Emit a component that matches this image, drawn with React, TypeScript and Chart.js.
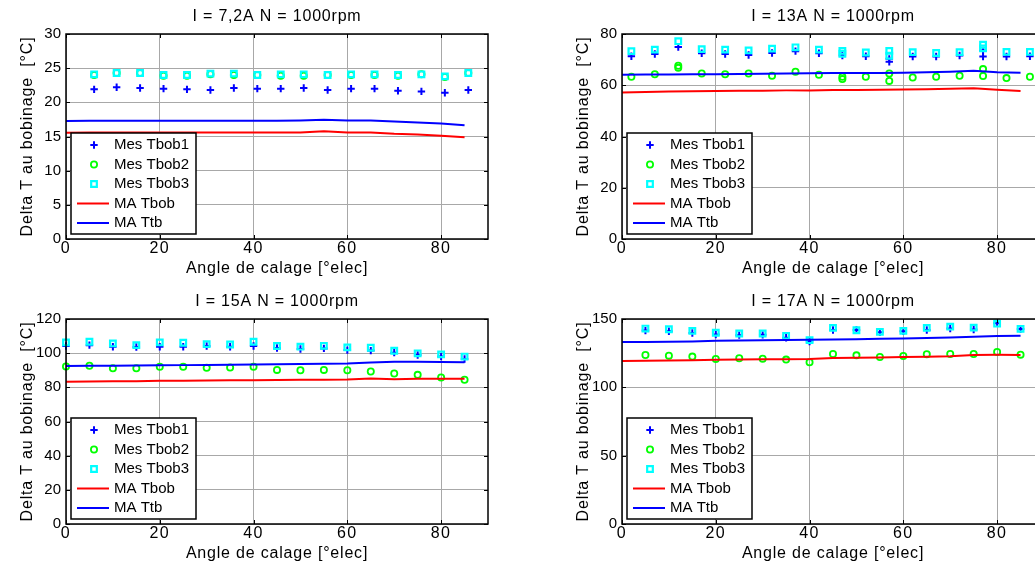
import React, { useEffect, useRef } from "react";
import { Chart, registerables } from "chart.js";

Chart.register(...registerables);

const FONT = '"Liberation Sans", Arial, Helvetica, sans-serif';

// ---------- shared ----------
const lineAngles = [0, 5, 10, 15, 20, 25, 30, 35, 40, 45, 50, 55, 60, 65, 70, 75, 80, 85];
const xTicks = [0, 20, 40, 60, 80];
const xMax = 90;
const legendLabels = ["Mes Tbob1", "Mes Tbob2", "Mes Tbob3", "MA Tbob", "MA Ttb"];
const xTitle = "Angle de calage [°elec]";
const yTitle = "Delta T au bobinage  [°C]";

// ---------- panel 1 : I = 7,2A ----------
const p1Title = "I = 7,2A N = 1000rpm";
const p1YTicks = [0, 5, 10, 15, 20, 25, 30];
const p1MesAngles = [6, 10.8, 15.8, 20.8, 25.8, 30.8, 35.8, 40.8, 45.8, 50.7, 55.8, 60.8, 65.8, 70.8, 75.8, 80.8, 85.8];
const p1Tbob1 = [21.9, 22.2, 22.1, 22.0, 21.9, 21.8, 22.1, 22.0, 22.0, 22.1, 21.8, 22.0, 22.0, 21.7, 21.6, 21.4, 21.8];
const p1Tbob2 = [24.0, 24.3, 24.3, 23.9, 23.9, 24.1, 24.0, 24.0, 23.9, 23.9, 24.0, 24.0, 24.0, 23.9, 24.1, 23.7, 24.3];
const p1Tbob3 = [24.1, 24.3, 24.3, 24.0, 24.0, 24.2, 24.2, 24.0, 24.1, 24.1, 24.0, 24.1, 24.1, 24.0, 24.1, 23.8, 24.3];
const p1MaTbob = [15.55, 15.6, 15.6, 15.6, 15.6, 15.6, 15.6, 15.6, 15.6, 15.6, 15.6, 15.75, 15.6, 15.6, 15.4, 15.3, 15.1, 14.9];
const p1MaTtb = [17.25, 17.3, 17.3, 17.3, 17.3, 17.3, 17.3, 17.3, 17.3, 17.3, 17.35, 17.45, 17.35, 17.35, 17.2, 17.05, 16.9, 16.65];

// ---------- panel 2 : I = 13A ----------
const p2Title = "I = 13A N = 1000rpm";
const p2YTicks = [0, 20, 40, 60, 80];
const p2MesAngles = [2, 7, 12, 17, 22, 27, 32, 37, 42, 47, 52, 57, 62, 67, 72, 77, 82, 87];
const p2Tbob1 = [71.3, 72.2, 74.9, 72.5, 72.2, 71.8, 72.6, 73.3, 72.5, 71.6, 71.3, 70.3, 71.2, 71.2, 71.6, 73.6, 71.2, 71.3];
const p2Tbob2 = [63.3, 64.3, 67.6, 64.6, 64.3, 64.6, 63.7, 65.3, 64.1, 63.3, 63.3, 64.6, 63.0, 63.3, 63.7, 66.3, 62.8, 63.3];
const p2Tbob3 = [73.3, 73.9, 77.2, 74.1, 73.9, 73.6, 74.3, 74.8, 73.9, 73.4, 72.8, 73.4, 72.9, 72.6, 72.9, 75.8, 73.0, 73.0];
const p2Tbob1ExtraAngles = [57, 77];
const p2Tbob1Extra = [69.2, 71.2];
const p2Tbob2ExtraAngles = [12, 47, 57, 77];
const p2Tbob2Extra = [66.8, 62.4, 61.7, 63.6];
const p2Tbob3ExtraAngles = [47, 57, 77];
const p2Tbob3Extra = [72.3, 71.5, 74.4];
const p2MaTbob = [57.2, 57.4, 57.6, 57.7, 57.8, 57.9, 57.9, 58.0, 58.0, 58.1, 58.1, 58.2, 58.3, 58.4, 58.6, 58.8, 58.2, 57.8];
const p2MaTtb = [64.1, 64.2, 64.2, 64.3, 64.3, 64.4, 64.5, 64.6, 64.7, 64.8, 64.8, 64.8, 64.9, 65.1, 65.3, 65.7, 65.1, 64.9];

// ---------- panel 3 : I = 15A ----------
const p3Title = "I = 15A N = 1000rpm";
const p3YTicks = [0, 20, 40, 60, 80, 100, 120];
const p3MesAngles = [0, 5, 10, 15, 20, 25, 30, 35, 40, 45, 50, 55, 60, 65, 70, 75, 80, 85];
const p3Tbob1 = [104.2, 104.7, 103.8, 103.6, 103.8, 103.8, 104.2, 103.8, 104.2, 103.0, 102.4, 102.8, 101.8, 101.5, 100.3, 98.9, 98.0, 96.6];
const p3Tbob2 = [92.2, 92.6, 91.2, 91.2, 92.0, 92.0, 91.4, 91.6, 92.0, 90.2, 90.0, 90.2, 90.0, 89.3, 88.1, 87.3, 85.8, 84.4];
const p3Tbob3 = [106.3, 106.7, 105.7, 104.7, 106.3, 106.1, 105.3, 105.1, 106.7, 104.2, 103.8, 104.3, 103.4, 103.2, 101.4, 99.9, 99.3, 98.0];
const p3MaTbob = [83.3, 83.4, 83.5, 83.6, 83.8, 83.9, 84.0, 84.1, 84.2, 84.3, 84.4, 84.5, 84.6, 85.2, 84.8, 85.0, 85.0, 85.0];
const p3MaTtb = [92.5, 92.6, 92.7, 92.8, 92.9, 93.0, 93.1, 93.2, 93.4, 93.5, 93.6, 93.8, 94.0, 94.6, 95.0, 95.0, 94.9, 94.7];

// ---------- panel 4 : I = 17A ----------
const p4Title = "I = 17A N = 1000rpm";
const p4YTicks = [0, 50, 100, 150];
const p4MesAngles = [5, 10, 15, 20, 25, 30, 35, 40, 45, 50, 55, 60, 65, 70, 75, 80, 85];
const p4Tbob1 = [141.5, 141.0, 139.8, 138.6, 138.2, 138.4, 136.3, 133.5, 142.0, 142.0, 140.3, 141.0, 142.0, 143.0, 142.3, 146.8, 142.6];
const p4Tbob2 = [123.7, 123.2, 122.5, 120.8, 121.3, 121.0, 120.3, 118.4, 124.4, 123.4, 122.2, 122.9, 124.2, 124.4, 124.4, 125.8, 123.9];
const p4Tbob3 = [143.0, 142.5, 141.3, 139.9, 139.4, 139.4, 137.7, 134.5, 143.5, 141.8, 140.6, 141.3, 143.5, 144.4, 143.7, 146.6, 142.8];
const p4MaTbob = [119.3, 119.5, 119.7, 119.9, 120.1, 120.3, 120.5, 120.6, 120.8, 121.5, 121.7, 121.9, 122.2, 122.4, 122.7, 123.6, 123.8, 123.7];
const p4MaTtb = [133.1, 133.2, 133.4, 133.6, 134.0, 134.3, 134.5, 134.6, 134.8, 135.0, 135.2, 135.5, 135.8, 136.1, 136.4, 137.0, 137.5, 137.7];

type PanelData = {
  title: string;
  yTicks: number[];
  ang: number[];
  t1: number[];
  t2: number[];
  t3: number[];
  ex1a: number[];
  ex1: number[];
  ex2a: number[];
  ex2: number[];
  ex3a: number[];
  ex3: number[];
  maTbob: number[];
  maTtb: number[];
};

const panels: { data: PanelData; left: number; top: number }[] = [
  {
    data: { title: p1Title, yTicks: p1YTicks, ang: p1MesAngles, t1: p1Tbob1, t2: p1Tbob2, t3: p1Tbob3, ex1a: [], ex1: [], ex2a: [], ex2: [], ex3a: [], ex3: [], maTbob: p1MaTbob, maTtb: p1MaTtb },
    left: 0,
    top: 0,
  },
  {
    data: { title: p2Title, yTicks: p2YTicks, ang: p2MesAngles, t1: p2Tbob1, t2: p2Tbob2, t3: p2Tbob3, ex1a: p2Tbob1ExtraAngles, ex1: p2Tbob1Extra, ex2a: p2Tbob2ExtraAngles, ex2: p2Tbob2Extra, ex3a: p2Tbob3ExtraAngles, ex3: p2Tbob3Extra, maTbob: p2MaTbob, maTtb: p2MaTtb },
    left: 556,
    top: 0,
  },
  {
    data: { title: p3Title, yTicks: p3YTicks, ang: p3MesAngles, t1: p3Tbob1, t2: p3Tbob2, t3: p3Tbob3, ex1a: [], ex1: [], ex2a: [], ex2: [], ex3a: [], ex3: [], maTbob: p3MaTbob, maTtb: p3MaTtb },
    left: 0,
    top: 285,
  },
  {
    data: { title: p4Title, yTicks: p4YTicks, ang: p4MesAngles, t1: p4Tbob1, t2: p4Tbob2, t3: p4Tbob3, ex1a: [], ex1: [], ex2a: [], ex2: [], ex3a: [], ex3: [], maTbob: p4MaTbob, maTtb: p4MaTtb },
    left: 556,
    top: 285,
  },
];

const CW = 500;
const CH = 283;

const pts = (xs: number[], ys: number[]) => xs.map((x, i) => ({ x, y: ys[i] }));

const spacingPlugin = {
  id: "spacing",
  beforeDraw(chart: any) {
    if (chart.$spaced) return;
    chart.$spaced = true;
    const wrap = (obj: any, name: string, sp: string) => {
      if (!obj || typeof obj[name] !== "function") return;
      const orig = obj[name];
      obj[name] = function (...args: any[]) {
        const ctx = chart.ctx;
        const prev = ctx.letterSpacing;
        ctx.letterSpacing = sp;
        try {
          return orig.apply(this, args);
        } finally {
          ctx.letterSpacing = prev || "0px";
        }
      };
    };
    wrap(chart.titleBlock, "draw", "0.8px");
    wrap(chart.scales.x, "drawTitle", "0.8px");
    wrap(chart.scales.y, "drawTitle", "0.8px");
    wrap(chart.scales.x, "drawLabels", "1.5px");
  },
};

function drawSymbol(ctx: CanvasRenderingContext2D, ds: any, cx: number, cy: number, x0: number) {
  ctx.save();
  ctx.strokeStyle = ds.borderColor;
  if (ds.showLine) {
    ctx.lineWidth = 2;
    ctx.beginPath();
    ctx.moveTo(x0 + 6, cy);
    ctx.lineTo(x0 + 38, cy);
    ctx.stroke();
  } else {
    const r = ds.pointRadius;
    ctx.lineWidth = ds.pointBorderWidth;
    ctx.beginPath();
    if (ds.pointStyle === "cross") {
      ctx.moveTo(cx - r, cy);
      ctx.lineTo(cx + r, cy);
      ctx.moveTo(cx, cy - r);
      ctx.lineTo(cx, cy + r);
    } else if (ds.pointStyle === "circle") {
      ctx.arc(cx, cy, r, 0, Math.PI * 2);
    } else {
      const s = r * Math.SQRT1_2;
      ctx.rect(cx - s, cy - s, 2 * s, 2 * s);
    }
    ctx.stroke();
  }
  ctx.restore();
}

const decorPlugin = {
  id: "decor",
  afterDatasetsDraw(chart: any) {
    const { ctx, chartArea: a } = chart;
    const xs = chart.scales.x;
    const ys = chart.scales.y;
    ctx.save();
    ctx.strokeStyle = "#000";
    ctx.lineWidth = 1;
    ctx.beginPath();
    xs.ticks.forEach((t: any) => {
      const px = Math.round(xs.getPixelForValue(t.value)) + 0.5;
      ctx.moveTo(px, a.bottom);
      ctx.lineTo(px, a.bottom - 4);
      ctx.moveTo(px, a.top);
      ctx.lineTo(px, a.top + 4);
    });
    ys.ticks.forEach((t: any) => {
      const py = Math.round(ys.getPixelForValue(t.value)) + 0.5;
      ctx.moveTo(a.left, py);
      ctx.lineTo(a.left + 4, py);
      ctx.moveTo(a.right, py);
      ctx.lineTo(a.right - 4, py);
    });
    ctx.stroke();
    ctx.lineWidth = 1.5;
    ctx.strokeRect(a.left, a.top, a.right - a.left, a.bottom - a.top);
    ctx.restore();
  },
  afterDraw(chart: any) {
    const { ctx, chartArea: a } = chart;
    const items = chart.data.datasets;
    ctx.save();
    ctx.letterSpacing = "0px";
    ctx.font = `15px ${FONT}`;
    const textW = Math.max(...items.map((d: any) => ctx.measureText(d.label).width));
    const w = Math.round(43 + textW + 7);
    const h = 101;
    const x = a.left + 5;
    const y = a.bottom - 5 - h;
    ctx.fillStyle = "#fff";
    ctx.fillRect(x, y, w, h);
    ctx.strokeStyle = "#000";
    ctx.lineWidth = 1.5;
    ctx.strokeRect(x, y, w, h);
    items.forEach((d: any, i: number) => {
      const cy = y + 12 + i * 19.5;
      drawSymbol(ctx, d, x + 23, cy, x);
      ctx.fillStyle = "#000";
      ctx.textAlign = "left";
      ctx.textBaseline = "middle";
      ctx.fillText(d.label, x + 43, cy);
    });
    ctx.restore();
  },
};

function makeConfig(p: PanelData): any {
  const yMax = p.yTicks[p.yTicks.length - 1];
  const gridOpts = { color: "#a8a8a8", lineWidth: 1, drawTicks: false };
  return {
    type: "scatter",
    data: {
      datasets: [
        {
          label: legendLabels[0],
          data: pts(p.ang, p.t1).concat(pts(p.ex1a, p.ex1)),
          pointStyle: "cross",
          pointRadius: 3.7,
          pointBorderWidth: 2,
          borderColor: "#0000ff",
          pointBorderColor: "#0000ff",
          backgroundColor: "transparent",
          pointBackgroundColor: "transparent",
          showLine: false,
          clip: false,
          order: 5,
        },
        {
          label: legendLabels[1],
          data: pts(p.ang, p.t2).concat(pts(p.ex2a, p.ex2)),
          pointStyle: "circle",
          pointRadius: 3.1,
          pointBorderWidth: 1.8,
          borderColor: "#00ff00",
          pointBorderColor: "#00ff00",
          backgroundColor: "transparent",
          pointBackgroundColor: "transparent",
          showLine: false,
          clip: false,
          order: 4,
        },
        {
          label: legendLabels[2],
          data: pts(p.ang, p.t3).concat(pts(p.ex3a, p.ex3)),
          pointStyle: "rect",
          pointRadius: 4,
          pointBorderWidth: 2.2,
          borderColor: "#00ffff",
          pointBorderColor: "#00ffff",
          backgroundColor: "transparent",
          pointBackgroundColor: "transparent",
          showLine: false,
          clip: false,
          order: 3,
        },
        {
          label: legendLabels[3],
          data: pts(lineAngles, p.maTbob),
          showLine: true,
          pointRadius: 0,
          borderColor: "#ff0000",
          backgroundColor: "#ff0000",
          borderWidth: 2,
          tension: 0,
          order: 2,
        },
        {
          label: legendLabels[4],
          data: pts(lineAngles, p.maTtb),
          showLine: true,
          pointRadius: 0,
          borderColor: "#0000ff",
          backgroundColor: "#0000ff",
          borderWidth: 2,
          tension: 0,
          order: 1,
        },
      ],
    },
    options: {
      animation: false,
      responsive: false,
      devicePixelRatio: 1,
      events: [],
      layout: { padding: { left: 0, right: 12, top: 0, bottom: 0 } },
      scales: {
        x: {
          type: "linear",
          min: 0,
          max: xMax,
          afterBuildTicks: (s: any) => {
            s.ticks = xTicks.map((v) => ({ value: v }));
          },
          afterFit: (s: any) => {
            s.height = 44;
          },
          grid: gridOpts,
          border: { display: false },
          ticks: {
            padding: 0,
            color: "#000",
            autoSkip: false,
            maxRotation: 0,
            font: { family: FONT, size: 16 },
          },
          title: {
            display: true,
            text: xTitle,
            color: "#000",
            font: { family: FONT, size: 16 },
            padding: { top: 0, bottom: 5 },
          },
        },
        y: {
          type: "linear",
          min: 0,
          max: yMax,
          afterBuildTicks: (s: any) => {
            s.ticks = p.yTicks.map((v) => ({ value: v }));
          },
          afterFit: (s: any) => {
            s.width = 66;
          },
          grid: gridOpts,
          border: { display: false },
          ticks: {
            padding: 5,
            color: "#000",
            autoSkip: false,
            font: { family: FONT, size: 15 },
          },
          title: {
            display: true,
            text: yTitle,
            color: "#000",
            font: { family: FONT, size: 16 },
            padding: { top: 18, bottom: 0 },
          },
        },
      },
      plugins: {
        legend: { display: false },
        tooltip: { enabled: false },
        title: {
          display: true,
          text: p.title,
          color: "#000",
          fullSize: false,
          font: { family: FONT, size: 16, weight: "normal" },
          padding: { top: 7, bottom: 7.8 },
        },
      },
    },
    plugins: [spacingPlugin, decorPlugin],
  };
}

function Panel({ data, left, top }: { data: PanelData; left: number; top: number }) {
  const ref = useRef<HTMLCanvasElement>(null);
  useEffect(() => {
    if (!ref.current) return;
    const chart = new Chart(ref.current, makeConfig(data));
    return () => chart.destroy();
  }, [data]);
  return (
    <canvas
      ref={ref}
      width={CW}
      height={CH}
      style={{ position: "absolute", left, top }}
    />
  );
}

export default function App() {
  return (
    <div
      style={{
        position: "fixed",
        left: 0,
        top: 0,
        width: 1035,
        height: 567,
        overflow: "hidden",
        background: "#fff",
      }}
    >
      {panels.map((p, i) => (
        <Panel key={i} data={p.data} left={p.left} top={p.top} />
      ))}
    </div>
  );
}
